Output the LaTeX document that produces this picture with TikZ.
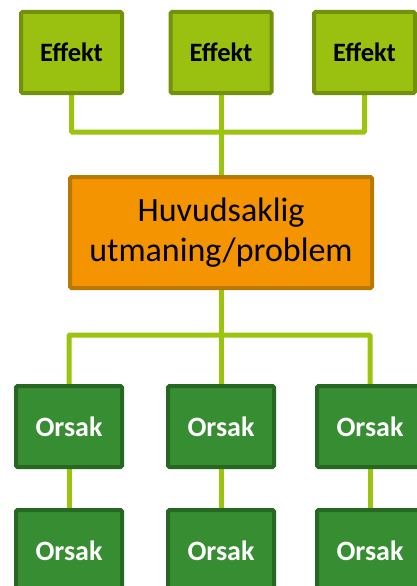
\documentclass[tikz,border=0pt]{standalone}
\usepackage{fontspec}
\setmainfont{Carlito}
\usetikzlibrary{backgrounds}
\definecolor{effill}{RGB}{154,192,16}
\definecolor{efdraw}{RGB}{115,145,12}
\definecolor{orfill}{RGB}{243,148,0}
\definecolor{ordraw}{RGB}{185,120,0}
\definecolor{cafill}{RGB}{55,141,49}
\definecolor{cadraw}{RGB}{38,104,34}
\definecolor{linecol}{RGB}{155,196,14}
\tikzset{
  box/.style={draw, line width=4pt, rounded corners=1.5pt, inner sep=0pt, anchor=north west},
  effekt/.style={box, fill=effill, draw=efdraw, minimum width=101pt, minimum height=81pt,
     font=\fontsize{26.5}{30}\selectfont\bfseries, text=black},
  mainbox/.style={box, fill=orfill, draw=ordraw, minimum width=302pt, minimum height=111pt,
     font=\fontsize{34}{40}\selectfont, text=black, align=center},
  orsak/.style={box, fill=cafill, draw=cadraw, minimum width=106pt, minimum height=81pt,
     font=\fontsize{28}{32}\selectfont\bfseries, text=white},
  conn/.style={draw=linecol, line width=5pt, rounded corners=1pt}
}
\begin{document}
\begin{tikzpicture}[x=1pt,y=-1pt]
\useasboundingbox (0,0) rectangle (417,586);
\clip (0,0) rectangle (417,586);
\node[effekt] (e1) at (19,10) {Effekt};
\node[effekt] (e2) at (168.5,10) {Effekt};
\node[effekt] (e3) at (312,10) {Effekt};
\node[mainbox] (main) at (68,175) {Huvudsaklig\\utmaning/problem};
\node[orsak] (o1) at (14,384) {Orsak};
\node[orsak] (o2) at (166,384) {Orsak};
\node[orsak] (o3) at (315,384) {Orsak};
\node[orsak] (p1) at (14,508) {Orsak};
\node[orsak] (p2) at (166,508) {Orsak};
\node[orsak] (p3) at (315,508) {Orsak};
\coordinate (jt) at (main.north |- 0,132);
\coordinate (jb) at (main.south |- 0,335);
\begin{scope}[on background layer]
\draw[conn] (e1.south) |- (jt);
\draw[conn] (e3.south) |- (jt);
\draw[conn] (e2.south) -- (main.north);
\draw[conn] (main.south) -- (jb);
\draw[conn] (o1.north) |- (jb);
\draw[conn] (o3.north) |- (jb);
\draw[conn] (jb) -- (o2.north);
\draw[conn] (o1.south) -- (p1.north);
\draw[conn] (o2.south) -- (p2.north);
\draw[conn] (o3.south) -- (p3.north);
\end{scope}
\end{tikzpicture}
\end{document}
